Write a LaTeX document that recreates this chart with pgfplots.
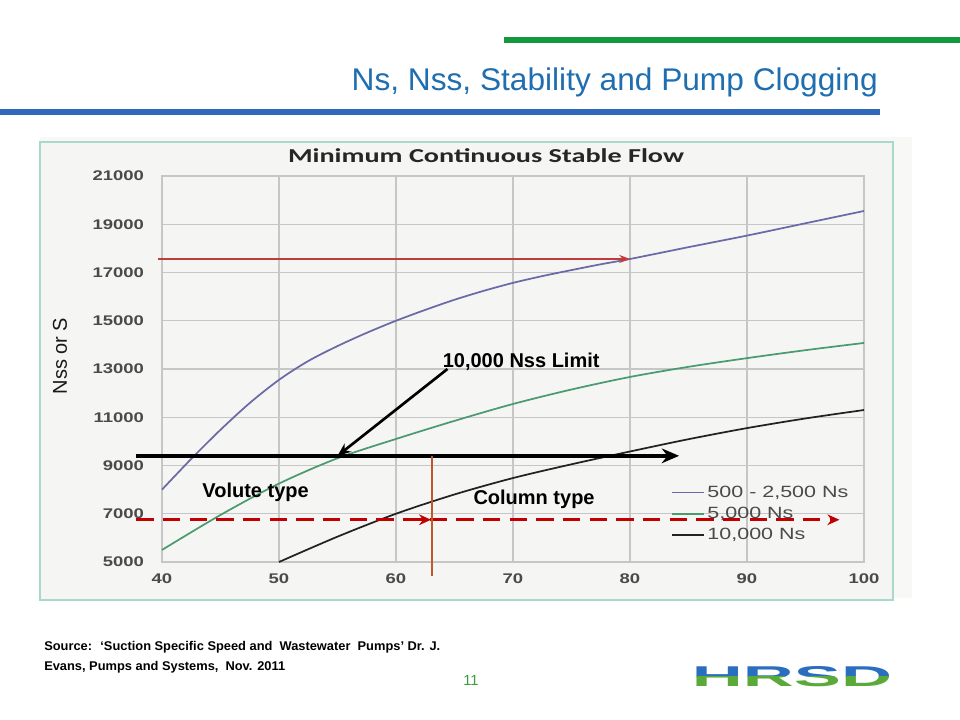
\documentclass[border=0pt]{standalone}
\usepackage{pgfplots}
\pgfplotsset{compat=1.18}
\usepackage{fontspec}
\setmainfont{Liberation Sans}
\newfontfamily\calib{Carlito}
\usetikzlibrary{arrows.meta}

\definecolor{slidegreen}{HTML}{13993B}
\definecolor{slideblue}{HTML}{2F69BA}
\definecolor{titleblue}{HTML}{1E6EB0}
\definecolor{chartbg}{HTML}{F5F6F3}
\definecolor{bandbg}{HTML}{F8F9F7}
\definecolor{framec}{HTML}{A9D9CB}
\definecolor{gridc}{HTML}{C6C6C6}
\definecolor{tickc}{HTML}{4A4A4A}
\definecolor{blueC}{HTML}{6A6AA6}
\definecolor{greenC}{HTML}{4C9A70}
\definecolor{blackC}{HTML}{222222}
\definecolor{redA}{HTML}{C23A3A}
\definecolor{dashR}{HTML}{C00000}
\definecolor{vlineC}{HTML}{C0582E}
\definecolor{pagegreen}{HTML}{3C9C3C}
\definecolor{logoblue}{HTML}{2A6EBF}
\definecolor{logogreen}{HTML}{5AAA3A}

% scan is stretched sideways
\newcommand\wide[1]{\scalebox{1.32}[1]{#1}}
\newsavebox\fitbox
\newcommand\fitw[2]{\sbox\fitbox{#2}\pgfmathsetmacro\fitr{#1/\the\wd\fitbox}\global\let\lastfitr\fitr\scalebox{\fitr}[1]{\usebox\fitbox}}

\begin{document}
\begin{tikzpicture}
\useasboundingbox (0,0) rectangle (720pt,540pt);
\fill[white] (0,0) rectangle (720pt,540pt);

% slide decoration
\draw[slidegreen, line width=4.5pt] (378pt,510pt) -- (720pt,510pt);
\draw[slideblue, line width=4.5pt] (0pt,456pt) -- (660pt,456pt);
\node[anchor=east, inner sep=0pt, text=titleblue, font=\fontsize{23.5}{28}\selectfont]
  at (658.5pt,478.5pt) {\fitw{394.5pt}{Ns, Nss, Stability and Pump Clogging}};

% scanned chart frame
\fill[bandbg] (30pt,91.5pt) rectangle (684pt,437.25pt);
\filldraw[fill=chartbg, draw=framec, line width=1pt] (30pt,90pt) rectangle (669.75pt,433.5pt);
\node[font=\calib\fontsize{14.8}{17}\selectfont\bfseries, text=black!85, inner sep=0pt]
  at (364.5pt,423pt) {\fitw{297pt}{Minimum Continuous Stable Flow}};
\node[rotate=90, font=\fontsize{15}{18}\selectfont, text=black!90, inner sep=0pt]
  at (45pt,273pt) {Nss or S};

\begin{axis}[
  at={(121.5pt,118.5pt)}, anchor=south west,
  scale only axis, width=526.5pt, height=289.5pt,
  xmin=40, xmax=100, ymin=5000, ymax=21000,
  xtick={40,50,...,100}, ytick={5000,7000,...,21000},
  scaled y ticks=false,
  grid=major, grid style={draw=gridc, line width=0.9pt},
  axis line style={draw=gridc, line width=0.9pt},
  major tick length=0pt,
  /pgf/number format/1000 sep={},
  /pgf/number format/assume math mode=true,
  tick label style={font=\fontsize{10.5}{12}\selectfont\bfseries, text=tickc},
  xticklabel={\wide{\pgfmathprintnumber{\tick}}},
  yticklabel={\wide{\pgfmathprintnumber{\tick}}},
  xticklabel style={yshift=-5pt},
  yticklabel style={xshift=-10pt},
  clip=false,
  legend style={at={(0.725,0.205)}, anchor=north west, draw=none, fill=none,
    font=\fontsize{12.2}{14}\selectfont, text=tickc, row sep=2pt, inner sep=0pt},
  legend cell align=left,
  legend image code/.code={\draw[#1, line width=1.2pt] (0pt,0pt) -- (24pt,0pt);},
]
\addplot[blueC, line width=1.3pt, smooth] coordinates {
  (40,8000) (42.5,9275) (45,10480) (47.5,11590) (50,12550) (52.5,13330)
  (55,13950) (57.5,14500) (60,15000) (62.5,15450) (65,15870) (67.5,16240)
  (70,16570) (72.5,16850) (75,17100) (77.5,17340) (80,17560) (85,18050)
  (90,18530) (95,19040) (100,19550)};
\addlegendentry{\wide{500 - 2,500 Ns}}
\addplot[greenC, line width=1.3pt, smooth] coordinates {
  (40,5500) (45,6950) (50,8250) (55,9300) (60,10100) (65,10850) (70,11550)
  (75,12150) (80,12670) (85,13090) (90,13450) (95,13780) (100,14080)};
\addlegendentry{\wide{5,000 Ns}}
\addplot[blackC, line width=1.3pt, smooth] coordinates {
  (50,5000) (55,6050) (60,7000) (65,7800) (70,8480) (75,9050) (80,9580)
  (85,10090) (90,10550) (95,10950) (100,11300)};
\addlegendentry{\wide{10,000 Ns}}

% annotations on the slide
\draw[redA, line width=1.4pt, -{Stealth[length=8pt,width=6pt]}]
  (axis cs:39.7,17560) -- (axis cs:80,17560);
\draw[black, line width=3pt, -{Stealth[length=13pt,width=11pt]}]
  (axis cs:37.8,9400) -- (axis cs:84.2,9400);
\draw[dashR, line width=2.2pt, dash pattern=on 13pt off 7pt, -{Stealth[length=9pt,width=8pt]}]
  (axis cs:37.8,6750) -- (axis cs:97.9,6750);
\draw[dashR, line width=2.2pt, -{Stealth[length=9pt,width=8pt]}]
  (axis cs:61.2,6750) -- (axis cs:63,6750);
\draw[vlineC, line width=1.5pt] (axis cs:63.1,9400) -- (axis cs:63.1,4420);
\draw[black, line width=2pt, -{Stealth[length=10pt,width=8pt]}]
  (axis cs:64.4,13000) -- (axis cs:55,9400);
\node[font=\fontsize{15}{18}\selectfont\bfseries, inner sep=0pt] at (axis cs:70.7,13290) {10,000 Nss Limit};
\node[font=\fontsize{15}{18}\selectfont\bfseries, inner sep=0pt] at (axis cs:48,7900) {Volute type};
\node[font=\fontsize{15}{18}\selectfont\bfseries, inner sep=0pt] at (axis cs:71.8,7610) {Column type};
\end{axis}

% footer
\node[anchor=west, inner sep=0pt, font=\fontsize{9.5}{11}\selectfont\bfseries]
  at (33pt,54.75pt) {\fitw{297pt}{Source:~ `Suction Specific Speed and~ Wastewater~ Pumps' Dr. J.}};
\node[anchor=west, inner sep=0pt, font=\fontsize{9.5}{11}\selectfont\bfseries]
  at (33pt,39.75pt) {\scalebox{\lastfitr}[1]{Evans, Pumps and Systems,~ Nov. 2011}};
\node[text=pagegreen, font=\fontsize{11}{13}\selectfont, inner sep=0pt] at (353.25pt,30pt) {11};

% logo
\begin{scope}
  \clip (500pt,32.25pt) rectangle (690pt,50pt);
  \node[text=logoblue, inner sep=0pt] at (594pt,32.25pt) {\resizebox{150pt}{15pt}{\bfseries HRSD}};
\end{scope}
\begin{scope}
  \clip (500pt,10pt) rectangle (690pt,32.25pt);
  \node[text=logogreen, inner sep=0pt] at (594pt,32.25pt) {\resizebox{150pt}{15pt}{\bfseries HRSD}};
\end{scope}
\end{tikzpicture}
\end{document}
